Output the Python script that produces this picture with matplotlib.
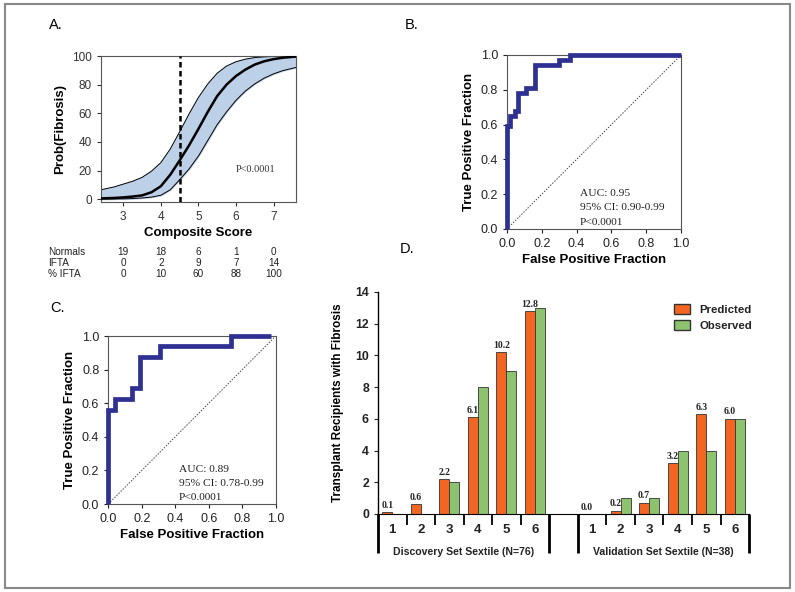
import numpy as np
import matplotlib.pyplot as plt
from matplotlib.patches import Rectangle, Patch
from matplotlib.transforms import blended_transform_factory

plt.rcParams['font.family'] = ['Liberation Sans', 'DejaVu Sans']
SERIF = ['Liberation Serif', 'DejaVu Serif']

# --- Panel A: logistic fit with confidence band
score = [2.4, 2.75, 3.0, 3.25, 3.5, 3.75, 4.0, 4.25, 4.5, 4.75, 5.0, 5.25, 5.5, 5.75,
         6.0, 6.25, 6.5, 6.75, 7.0, 7.25, 7.6]
prob_mid = [0.5, 0.8, 1.2, 1.8, 2.6, 4.8, 9, 17, 27, 37.5, 49, 61, 72, 80,
            86, 90.5, 94, 96.3, 97.8, 98.8, 99.6]
prob_hi = [6.5, 8.5, 10.5, 12.5, 15.2, 19.5, 25.5, 35, 47, 59.5, 71, 80.5, 88, 93,
           96, 97.8, 98.9, 99.4, 99.7, 99.9, 100]
prob_lo = [0.0, 0.1, 0.2, 0.4, 0.8, 1.4, 2.7, 6.5, 13.5, 21, 30, 41, 52, 61,
           69, 75.5, 80.5, 84.5, 87.5, 89.8, 92]
cutoff = 4.5
table_x = [3, 4, 5, 6, 7]
normals = [19, 18, 6, 1, 0]
ifta = [0, 2, 9, 7, 14]
pct_ifta = [0, 10, 60, 88, 100]

# --- Panel B / C: ROC curves (fpr, tpr corner points)
roc_b_fpr = [0, 0, 0.02, 0.044, 0.065, 0.11, 0.16, 0.30, 0.36, 1.0]
roc_b_tpr = [0, 0.59, 0.65, 0.68, 0.78, 0.81, 0.94, 0.97, 1.0, 1.0]
roc_c_fpr = [0, 0, 0.04, 0.14, 0.19, 0.31, 0.73, 0.97]
roc_c_tpr = [0, 0.56, 0.625, 0.69, 0.875, 0.94, 1.0, 1.0]
stats_b = ['AUC: 0.95', '95% CI: 0.90-0.99', 'P<0.0001']
stats_c = ['AUC: 0.89', '95% CI: 0.78-0.99', 'P<0.0001']

# --- Panel D: predicted vs observed by sextile
sextiles = ['1', '2', '3', '4', '5', '6']
disc_pred = [0.1, 0.6, 2.2, 6.1, 10.2, 12.8]
disc_obs = [0, 0, 2, 8, 9, 13]
val_pred = [0.0, 0.2, 0.7, 3.2, 6.3, 6.0]
val_obs = [0, 1, 1, 4, 4, 6]

navy = '#2e3192'
orange = '#f26522'
green = '#8dc26f'

fig = plt.figure(figsize=(7.95, 5.92), dpi=100)
fig.add_artist(Rectangle((0.006, 0.007), 0.988, 0.986, transform=fig.transFigure,
                         fill=False, ec='#8a8a8a', lw=1.5))

# ---------------- A
axA = fig.add_axes([0.1267, 0.6588, 0.2457, 0.2466])
axA.fill_between(score, prob_lo, prob_hi, color='#bcd0e8', zorder=1)
axA.plot(score, prob_hi, color='k', lw=0.7, zorder=2)
axA.plot(score, prob_lo, color='k', lw=0.7, zorder=2)
axA.plot(score, prob_mid, color='k', lw=1.8, zorder=3)
axA.axvline(cutoff, color='k', ls=(0, (2.2, 1.4)), lw=1.8, zorder=4)
axA.set_xlim(2.4, 7.6)
axA.set_ylim(-2, 100)
axA.set_xticks(table_x)
axA.set_yticks(range(0, 101, 20))
axA.tick_params(labelsize=8.5, colors='#333333', length=3)
for s in axA.spines.values():
    s.set_color('#555555')
axA.set_xlabel('Composite Score', fontsize=9.5, fontweight='bold', labelpad=3)
axA.set_ylabel('Prob(Fibrosis)', fontsize=9.5, fontweight='bold', labelpad=4)
axA.text(6.0, 21, 'P<0.0001', family=SERIF, fontsize=7.4, color='#333333', va='center')

tr = blended_transform_factory(axA.transData, fig.transFigure)
rows = [('Normals', normals, 0.574), ('IFTA', ifta, 0.556), ('% IFTA', pct_ifta, 0.537)]
for name, vals, yy in rows:
    fig.text(0.06, yy, name, fontsize=7.2, va='center', color='#222222')
    for xv, v in zip(table_x, vals):
        axA.text(xv, yy, str(v), transform=tr, fontsize=7.2, ha='center', va='center',
                 color='#222222')


def roc_panel(ax, fpr, tpr, stats):
    ax.plot([0, 1], [0, 1], color='#444444', ls=(0, (1.5, 1.5)), lw=0.7)
    ax.plot(fpr, tpr, drawstyle='steps-post', color=navy, lw=3.4,
            solid_joinstyle='miter', solid_capstyle='butt', clip_on=False, zorder=3)
    ax.set_xlim(0, 1)
    ax.set_ylim(0, 1)
    ax.set_xticks(np.arange(0, 1.01, 0.2))
    ax.set_yticks(np.arange(0, 1.01, 0.2))
    ax.xaxis.set_major_formatter('{x:.1f}')
    ax.yaxis.set_major_formatter('{x:.1f}')
    ax.tick_params(labelsize=9, colors='#222222', length=3)
    for s in ax.spines.values():
        s.set_color('#555555')
    ax.set_xlabel('False Positive Fraction', fontsize=9.5, fontweight='bold', labelpad=3)
    ax.set_ylabel('True Positive Fraction', fontsize=9.5, fontweight='bold', labelpad=4)
    for i, line in enumerate(stats):
        ax.text(0.42, 0.205 - i * 0.083, line, family=SERIF, fontsize=8.2,
                color='#222222', va='center')


# ---------------- B
axB = fig.add_axes([0.6377, 0.6132, 0.2189, 0.2939])
roc_panel(axB, roc_b_fpr, roc_b_tpr, stats_b)

# ---------------- C
axC = fig.add_axes([0.1362, 0.1486, 0.2106, 0.2838])
roc_panel(axC, roc_c_fpr, roc_c_tpr, stats_c)

# ---------------- D
axD = fig.add_axes([0.4755, 0.1318, 0.4667, 0.375])
disc_pos = np.arange(1, 7)
val_pos = np.arange(8, 14)
w = 0.35
for pos, pred, obs in [(disc_pos, disc_pred, disc_obs), (val_pos, val_pred, val_obs)]:
    axD.bar(pos - w / 2, pred, w, color=orange, edgecolor='#333333', lw=0.6)
    axD.bar(pos + w / 2, obs, w, color=green, edgecolor='#333333', lw=0.6)
    for p, v in zip(pos, pred):
        axD.text(p - w / 2, v + 0.15, f'{v:.1f}', family=SERIF, fontsize=7,
                 fontweight='bold', ha='center', va='bottom', color='#222222')

axD.set_xlim(0.5, 13.5)
axD.set_ylim(0, 14)
axD.set_yticks(range(0, 15, 2))
axD.set_xticks(np.concatenate([disc_pos, val_pos]))
axD.set_xticklabels(sextiles + sextiles, fontweight='bold')
axD.set_yticklabels([str(v) for v in range(0, 15, 2)], fontweight='bold')
axD.tick_params(axis='x', length=0, pad=7, labelsize=9.5, colors='#222222')
axD.tick_params(axis='y', labelsize=8.8, length=3, colors='#222222')
axD.spines['top'].set_visible(False)
axD.spines['right'].set_visible(False)
axD.spines['left'].set_linewidth(1.0)
axD.set_ylabel('Transplant Recipients with Fibrosis', fontsize=8.5, fontweight='bold',
               labelpad=8)

# group brackets below the axis
seps = np.concatenate([disc_pos[:-1] + 0.5, val_pos[:-1] + 0.5])
axD.vlines(seps, -0.7, 0, color='k', lw=1.3, clip_on=False)
edges = [disc_pos[0] - 0.5, disc_pos[-1] + 0.5, val_pos[0] - 0.5, val_pos[-1] + 0.5]
axD.vlines(edges, -2.45, 0, color='k', lw=2.0, clip_on=False)
axD.text(disc_pos.mean(), -2.4, 'Discovery Set Sextile (N=76)', fontsize=7.6,
         fontweight='bold', ha='center', va='center', color='#222222')
axD.text(val_pos.mean(), -2.4, 'Validation Set Sextile (N=38)', fontsize=7.6,
         fontweight='bold', ha='center', va='center', color='#222222')

handles = [Patch(facecolor=orange, edgecolor='#333333', label='Predicted'),
           Patch(facecolor=green, edgecolor='#333333', label='Observed')]
leg = axD.legend(handles=handles, loc='upper left', bbox_to_anchor=(0.77, 0.99),
                 frameon=False, fontsize=8.2, handlelength=1.4, handleheight=0.9,
                 labelspacing=0.45)
for t in leg.get_texts():
    t.set_fontweight('bold')
    t.set_color('#222222')

# panel letters
fig.text(0.061, 0.957, 'A.', fontsize=10.5, va='center')
fig.text(0.509, 0.958, 'B.', fontsize=10.5, va='center')
fig.text(0.063, 0.480, 'C.', fontsize=10.5, va='center')
fig.text(0.503, 0.580, 'D.', fontsize=10.5, va='center')

fig.savefig('out.png', dpi=100)
